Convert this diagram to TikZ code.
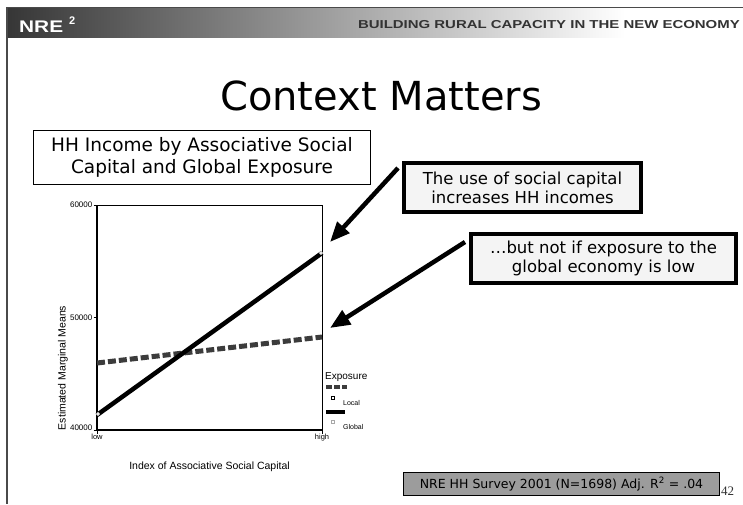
\documentclass[tikz,border=0pt]{standalone}
\usepackage{fontspec}
\setmainfont{DejaVu Sans}
\newfontfamily\arialf{Liberation Sans}
\newfontfamily\serifn{Liberation Serif}
\usetikzlibrary{arrows.meta,calc}
\definecolor{hdrdark}{HTML}{363636}
\definecolor{hdrtext}{HTML}{333333}
\definecolor{hdrline}{HTML}{4A4A4A}
\definecolor{localc}{HTML}{3C3C3C}
\definecolor{boxfill}{HTML}{F4F4F4}
\definecolor{surveyfill}{HTML}{9C9C9C}
\definecolor{markgray}{HTML}{A8A8A8}
\begin{document}
\begin{tikzpicture}[x=1pt,y=-1pt,
  callout/.style={draw=black, line width=4pt, fill=boxfill, align=center,
    inner sep=0pt, font=\fontsize{16.5}{19}\selectfont},
  titlebox/.style={draw=black, line width=0.8pt, fill=white, align=center,
    inner sep=0pt, font=\fontsize{18.5}{22}\selectfont},
  bigarrow/.style={line width=4.5pt, -{Triangle[length=20pt,width=16pt]}},
  ticklab/.style={font=\arialf\fontsize{8}{8}\selectfont, inner sep=1pt},
  catlab/.style={font=\arialf\fontsize{7.5}{7.5}\selectfont, inner sep=1pt},
  axistitle/.style={font=\arialf\fontsize{10.5}{10.5}\selectfont, inner sep=0pt},
  leglab/.style={font=\arialf\fontsize{7}{7}\selectfont, inner sep=0pt, anchor=west},
  globalline/.style={line width=4.5pt, black},
  localline/.style={line width=5pt, localc, dash pattern=on 8pt off 3pt},
  marker/.style={draw=markgray, fill=white, line width=0.6pt}
]
\useasboundingbox (0,0) rectangle (743,504);
\fill[white] (0,0) rectangle (743,504);

% header band
\shade[left color=hdrdark, right color=white] (7,7) rectangle (625,37);
\draw[hdrline, line width=1pt] (7,7) -- (743,7);
\draw[hdrline, line width=1.3pt] (7,7) -- (7,504);
\node[anchor=base west, inner sep=0pt, text=white,
  font=\arialf\bfseries\fontsize{16.8}{16.8}\selectfont] (nre) at (19,32)
  {\scalebox{1.24}[1]{NRE}};
\node[anchor=base west, inner sep=0pt, text=white,
  font=\arialf\bfseries\fontsize{11}{11}\selectfont] (nresup) at (69,24) {2};
\node[anchor=base east, inner sep=0pt, text=hdrtext,
  font=\arialf\bfseries\fontsize{11.5}{11.5}\selectfont] (tagline) at (740,28)
  {\scalebox{1.30}[1]{BUILDING RURAL CAPACITY IN THE NEW ECONOMY}};

% title
\node[anchor=base west, inner sep=0pt, font=\fontsize{40}{40}\selectfont]
  (title) at (220,110) {Context Matters};

% chart title box
\node[titlebox, minimum width=337pt, minimum height=54pt] (charttitle)
  at (202,157.5) {HH Income by Associative Social\\Capital and Global Exposure};

% callouts
\node[callout, minimum width=237pt, minimum height=49pt] (call1)
  at (522.5,187.5) {The use of social capital\\increases HH incomes};
\node[callout, minimum width=265pt, minimum height=49pt] (call2)
  at (603.5,258.5) {\ldots but not if exposure to the\\global economy is low};

% plot frame
\draw[black, line width=0.7pt] (97,205) rectangle (322,430);
\draw[black, line width=1.5pt] (97,205) -- (97,430) -- (322,430);
\foreach \yy in {205,317.5,430} \draw[black, line width=0.8pt] (93.5,\yy) -- (97,\yy);
\foreach \xx in {97,322} \draw[black, line width=0.8pt] (\xx,430) -- (\xx,433.5);
\node[ticklab, anchor=east] (t60) at (93.5,205) {60000};
\node[ticklab, anchor=east] (t50) at (93.5,317.5) {50000};
\node[ticklab, anchor=east] (t40) at (93.5,428) {40000};
\node[catlab, anchor=north] (lowlab) at (97,433) {low};
\node[catlab, anchor=north] (highlab) at (322,433) {high};
\node[axistitle, rotate=90] (ytitle) at (63,368) {Estimated Marginal Means};
\node[axistitle] (xtitle) at (209.5,467) {Index of Associative Social Capital};

% data lines
\draw[localline] (97,363) -- (322,337);
\draw[globalline] (97,415) -- (322,253);
\draw[marker] (98,414) circle (1.8pt);
\draw[marker] (321,253) circle (1.8pt);
\coordinate (globhigh) at (330,242);
\coordinate (lochigh) at (330,328);

% legend
\node[anchor=west, inner sep=0pt, font=\arialf\fontsize{10}{10}\selectfont]
  (legtitle) at (325,377) {Exposure};
\draw[line width=4pt, localc, dash pattern=on 6pt off 2pt] (326,387) -- (347,387);
\draw[black, line width=0.8pt] (331.5,396.5) rectangle (334.5,399.5);
\node[leglab] (leglocal) at (343,403) {Local};
\draw[black, line width=4pt] (326,412) -- (345,412);
\draw[markgray, line width=0.8pt] (331.5,420.5) rectangle (334.5,423.5);
\node[leglab] (legglobal) at (343,427) {Global};

% arrows
\draw[bigarrow] ([shift={(-4,7)}]call1.north west) -- (globhigh);
\draw[bigarrow] ([shift={(-4,10)}]call2.north west) -- (lochigh);

% survey note
\node[draw=black, line width=0.8pt, fill=surveyfill, inner sep=0pt,
  minimum width=316pt, minimum height=23pt,
  font=\fontsize{12.5}{12.5}\selectfont] (survey) at (561.5,484)
  {NRE HH Survey 2001 (N=1698) Adj. R\textsuperscript{2} = .04};
\node[anchor=base west, inner sep=0pt, text=hdrtext,
  font=\serifn\fontsize{13}{13}\selectfont] (pagenum) at (721,495) {42};
\end{tikzpicture}
\end{document}
